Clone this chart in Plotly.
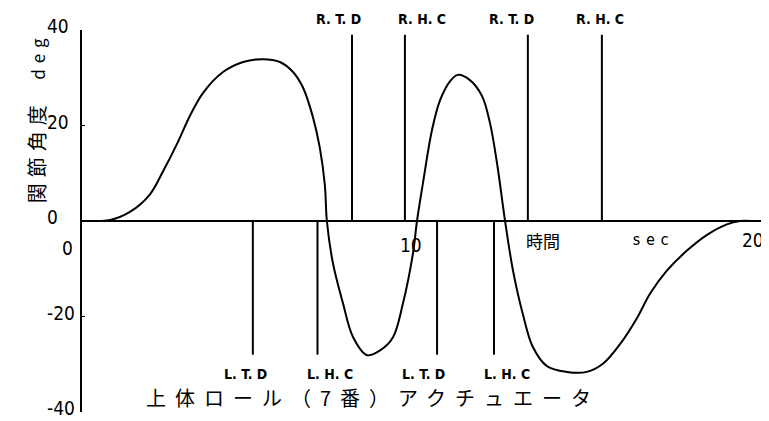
import plotly.graph_objects as go

# ---- data ----
time_s = [0.0, 0.5, 0.84, 1.43, 2.03, 2.42, 2.84, 3.22, 3.61, 4.21, 4.81, 5.40, 5.91, 6.30,
          6.60, 6.90, 7.10, 7.25, 7.31, 7.49, 7.79, 8.09, 8.51, 8.90, 9.28, 9.58, 9.88,
          10.0, 10.18, 10.45, 10.69, 10.99, 11.22, 11.58, 11.94, 12.18, 12.39, 12.63,
          12.87, 13.16, 13.46, 13.88, 14.48, 15.07, 15.55, 16.06, 16.57, 16.96, 17.46,
          18.06, 18.66, 19.25, 19.64, 20.0]
angle_deg = [0.0, 0.0, 0.2, 1.9, 5.6, 10.4, 16.2, 22.0, 26.8, 31.2, 33.3, 33.9, 33.3, 31.2,
             27.9, 21.6, 15.3, 7.5, 0.0, -8.8, -17.2, -24.3, -28.1, -27.1, -24.4, -17.3, -6.8,
             0.0, 8.0, 19.1, 25.3, 29.3, 30.6, 29.5, 26.2, 20.5, 12.1, 0.0,
             -10.5, -19.5, -26.4, -30.4, -31.6, -31.6, -29.9, -25.8, -20.3, -15.2, -10.4,
             -6.2, -2.9, -0.7, 0.0, 0.0]

r_event_names = ["R. T. D", "R. H. C", "R. T. D", "R. H. C"]
r_event_times = [8.06, 9.64, 13.31, 15.52]
r_event_top = 39.0

l_event_names = ["L. T. D", "L. H. C", "L. T. D", "L. H. C"]
l_event_times = [5.10, 7.03, 10.60, 12.30]
l_event_bottom = -28.0

y_ticks = [40, 20, 0, -20, -40]
y_tick_labels = ["40", "20", "0", "-20", "-40"]
x_ticks = [0, 10, 20]
x_tick_labels = ["0", "10", "20"]

title_text = "上体ロール（7番）アクチュエータ"
y_title_main = "関節角度"
y_title_unit = "deg"
x_title_main = "時間"
x_title_unit = "sec"

# ---- styles / offsets ----
r_label_shift = [-13, 17, -16, -2]
l_label_shift = [-7, 13, -14, 13]
x_label_shift = [(-15, -27), (-6, -24), (1, -19)]

NUM_FONT = dict(family="Liberation Sans Narrow, DejaVu Sans Condensed, Liberation Sans, sans-serif",
                size=19, color="black")
EV_FONT = dict(family="Liberation Sans Narrow, DejaVu Sans Condensed, Liberation Sans, sans-serif",
               size=14, color="black", weight="bold")
JP_FONT = "Noto Sans CJK JP"

fig = go.Figure()

fig.add_trace(go.Scatter(x=time_s, y=angle_deg, mode="lines",
                         line=dict(color="black", width=2, shape="spline", smoothing=1.0),
                         hoverinfo="skip", showlegend=False))

# event lines
ex, ey = [], []
for t in r_event_times:
    ex += [t, t, None]
    ey += [0, r_event_top, None]
for t in l_event_times:
    ex += [t, t, None]
    ey += [0, l_event_bottom, None]
fig.add_trace(go.Scatter(x=ex, y=ey, mode="lines", line=dict(color="black", width=2),
                         hoverinfo="skip", showlegend=False))

ann = []
for name, t, s in zip(r_event_names, r_event_times, r_label_shift):
    ann.append(dict(x=t, y=r_event_top, text=name, showarrow=False, xshift=s,
                    yanchor="bottom", yshift=6, font=EV_FONT))
for name, t, s in zip(l_event_names, l_event_times, l_label_shift):
    ann.append(dict(x=t, y=l_event_bottom, text=name, showarrow=False, xshift=s,
                    yanchor="top", yshift=-9, font=EV_FONT))
for v, lab in zip(y_ticks, y_tick_labels):
    ann.append(dict(x=0, xref="paper", y=v, text=lab, showarrow=False, xanchor="left",
                    xshift=-37, yshift=4, font=NUM_FONT))
for v, lab, (sx, sy) in zip(x_ticks, x_tick_labels, x_label_shift):
    ann.append(dict(x=v, y=0, text=lab, showarrow=False, xshift=sx, yshift=sy, font=NUM_FONT))

ann.append(dict(x=13.76, y=0, text=x_title_main, showarrow=False, yshift=-19,
                font=dict(family=JP_FONT, size=17, color="black")))
ann.append(dict(x=17.04, y=0, text='<span style="letter-spacing:5px">' + x_title_unit + '</span>',
                showarrow=False, yshift=-19,
                font=dict(family="DejaVu Sans Mono, monospace", size=15, color="black")))
ann.append(dict(x=8.7, y=-36.9, text='<span style="letter-spacing:9px">' + title_text + '</span>',
                showarrow=False, font=dict(family=JP_FONT, size=20, color="black")))
ann.append(dict(x=0, xref="paper", xshift=-62, y=21.6, textangle=-90,
                text='<span style="letter-spacing:6px">' + y_title_main + '</span>'
                     + '<span style="font-size:17px;letter-spacing:6px">  ' + y_title_unit + '</span>',
                showarrow=False, font=dict(family=JP_FONT, size=20, color="black")))

# the page body has an 8px margin, so the figure is laid out 8px smaller
fig.update_layout(
    width=761, height=413,
    margin=dict(l=74, r=7, t=22, b=9),
    paper_bgcolor="white", plot_bgcolor="white",
    xaxis=dict(range=[0, 20.3], visible=False, showgrid=False),
    yaxis=dict(range=[-40, 40], showgrid=False, showline=True, linecolor="black", linewidth=2,
               zeroline=True, zerolinecolor="black", zerolinewidth=2,
               tickvals=y_ticks, showticklabels=False, ticks="inside", ticklen=3,
               tickcolor="black"),
    annotations=ann,
    showlegend=False,
)

fig.write_html("out.html")
